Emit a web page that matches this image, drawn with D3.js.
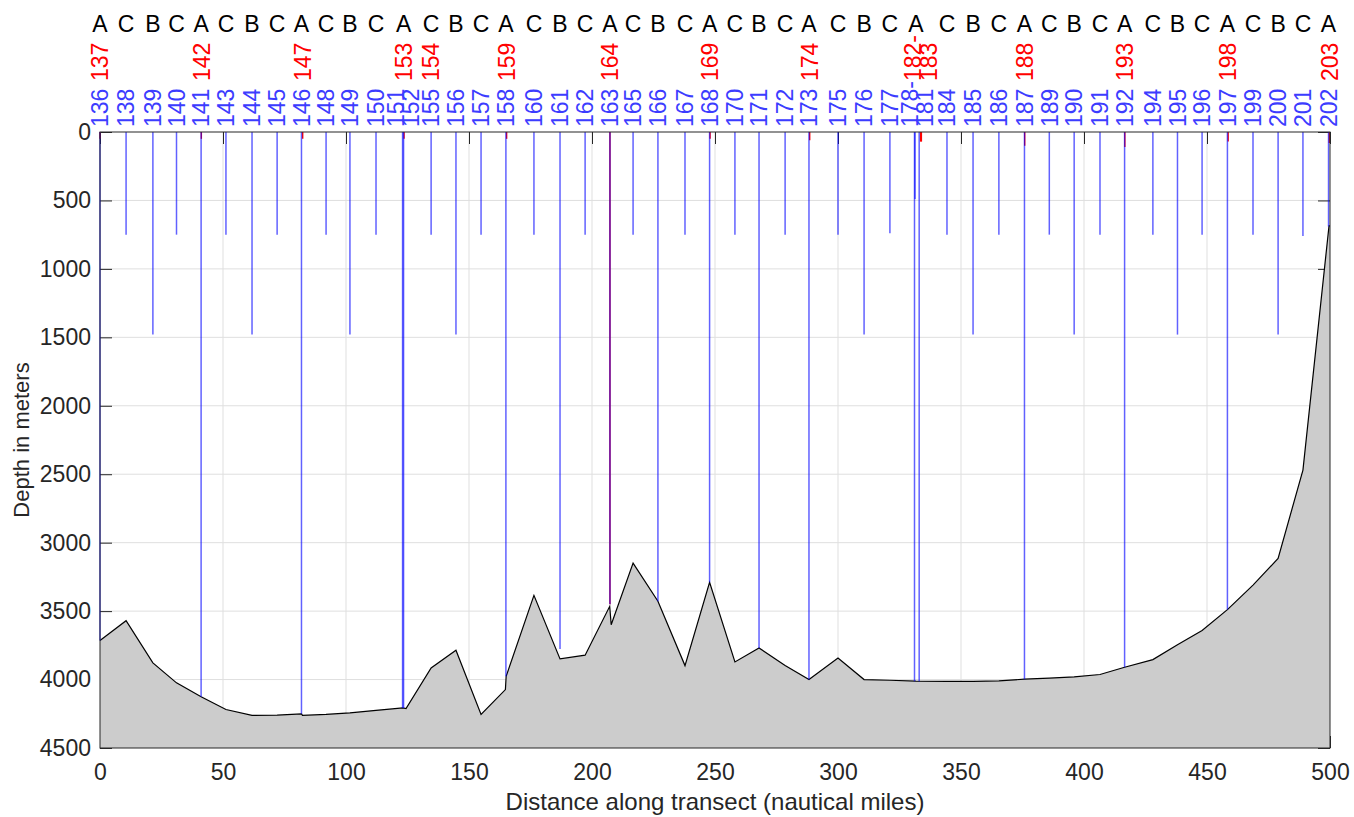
<!DOCTYPE html>
<html>
<head>
<meta charset="utf-8">
<script src="https://cdn.jsdelivr.net/npm/d3@7"></script>
<style>
  body { margin: 0; background: #fff; }
  svg text { font-family: "Liberation Sans", Arial, Helvetica, sans-serif; }
</style>
</head>
<body>
<div id="chart"></div>
<script>
// Sampling sites along the transect (nautical miles) and their site type
const siteDist = [0, 10.6, 21.5, 31.1, 41.1, 51.2, 61.8, 72, 81.9, 91.9, 101.6, 112.2, 123.4,
    134.6, 144.7, 154.9, 165, 176.4, 187, 197.2, 207.3, 216.7, 226.8, 237.8, 247.8, 258.1,
    267.9, 278.5, 288.2, 300, 310.6, 321.1, 331.7, 344.3, 354.9, 365.4, 375.8, 385.9, 396,
    406.5, 416.5, 428, 438, 448, 458.3, 468.7, 478.9, 489, 499.4];
const siteType = ["A", "C", "B", "C", "A", "C", "B", "C", "A", "C", "B", "C", "A",
    "C", "B", "C", "A", "C", "B", "C", "A", "C", "B", "C", "A", "C",
    "B", "C", "A", "C", "B", "C", "A", "C", "B", "C", "A", "C", "B",
    "C", "A", "C", "B", "C", "A", "C", "B", "C", "A"];

// Blue stations: label, distance, cast depth (m)
const blueLabels = ["136", "138", "139", "140", "141", "143", "144", "145", "146", "148", "149", "150",
    "151", "152", "155", "156", "157", "158", "160", "161", "162", "163", "165", "166", "167", "168",
    "170", "171", "172", "173", "175", "176", "177", "178-", "", "181", "184", "185", "186", "187",
    "189", "190", "191", "192", "194", "195", "196", "197", "199", "200", "201", "202"];
const blueDist = [0, 10.6, 21.5, 31.1, 41.1, 51.2, 61.8, 72, 81.9, 91.9, 101.6, 112.2,
    123.0, 123.4, 134.6, 144.7, 154.9, 165.0, 176.4, 187, 197.2, 207.3, 216.7, 226.8, 237.8, 247.8,
    258.1, 267.9, 278.5, 288.2, 300, 310.6, 321.1, 331.3, 331.1, 333.0, 344.3, 354.9, 365.4, 375.8,
    385.9, 396, 406.5, 416.5, 428, 438, 448, 458.3, 468.7, 478.9, 489, 499.4];
const blueDepth = [3715, 750, 1480, 750, 4126, 750, 1480, 750, 4250, 750, 1480, 750,
    4207, 4207, 750, 1480, 750, 3976, 750, 3776, 750, 3450, 750, 3428, 750, 3290,
    750, 3769, 750, 4000, 750, 1480, 740, 490, 4012, 4012, 750, 1480, 750, 3997,
    750, 1480, 750, 3910, 750, 1480, 750, 3489, 750, 1480, 760, 690];

// Red stations: label, distance, cast depth (m)
const redLabels = ["137", "142", "147", "153", "154", "159", "164", "169", "174", "182-", "183",
    "188", "193", "198", "203"];
const redDist = [0, 41.2, 82.4, 123.6, 134.6, 165.3, 207.3, 248.0, 288.5, 333.6, 333.9,
    375.9, 416.6, 458.6, 499.7];
const redDepth = [50, 50, 50, 50, 0, 50, 3450, 50, 60, 70, 70, 100, 110, 70, 80];

// Bottom profile
const bottomDist = [0, 10.6, 21.5, 31.1, 41.1, 51.2, 61.8, 72, 81.9, 82.3, 91.9, 101.6, 112.2,
    123.1, 124.4, 134.6, 144.7, 154.9, 164.8, 165.1, 176.4, 187, 197.2, 207.2, 207.8, 216.7,
    226.8, 237.8, 247.8, 258.1, 267.9, 278.5, 288.2, 300, 310.6, 321.1, 331.7, 344.3, 354.9,
    365.4, 375.8, 385.9, 396, 406.5, 416.5, 428, 438, 448, 458.3, 468.7, 478.9, 489, 499.6, 500];
const bottomDepth = [3715, 3570, 3878, 4024, 4126, 4219, 4262, 4260, 4250, 4262, 4255, 4243, 4225,
    4207, 4212, 3915, 3786, 4255, 4073, 3976, 3385, 3849, 3822, 3465, 3600, 3149,
    3428, 3898, 3290, 3871, 3769, 3898, 4000, 3842, 4000, 4005, 4012, 4013, 4013,
    4010, 3997, 3990, 3980, 3963, 3910, 3854, 3745, 3642, 3489, 3310, 3115, 2470, 686, 686];

const xTicks = [0, 50, 100, 150, 200, 250, 300, 350, 400, 450, 500];
const yTicks = [0, 500, 1000, 1500, 2000, 2500, 3000, 3500, 4000, 4500];

function renderTransect() {
    const width = 1354, height = 817;
    const margin = { top: 132, right: 24, bottom: 69, left: 100 };
    const innerWidth = width - margin.left - margin.right;
    const innerHeight = height - margin.top - margin.bottom;
    const axisColor = "#262626";
    const fontSize = "23px";

    const svg = d3.select("#chart")
        .append("svg")
        .attr("width", width)
        .attr("height", height);

    const g = svg.append("g")
        .attr("transform", `translate(${margin.left},${margin.top})`);

    // Scales
    const x = d3.scaleLinear().domain([0, 500]).range([0, innerWidth]);
    const y = d3.scaleLinear().domain([0, 4500]).range([0, innerHeight]);

    // Grid
    g.append("g").selectAll("line.gx")
        .data(xTicks.slice(1, -1))
        .enter().append("line")
        .attr("x1", d => x(d)).attr("x2", d => x(d))
        .attr("y1", 0).attr("y2", innerHeight)
        .attr("stroke", "#dfdfdf").attr("stroke-width", 1);
    g.append("g").selectAll("line.gy")
        .data(yTicks.slice(1, -1))
        .enter().append("line")
        .attr("x1", 0).attr("x2", innerWidth)
        .attr("y1", d => y(d)).attr("y2", d => y(d))
        .attr("stroke", "#dfdfdf").attr("stroke-width", 1);

    // Axes (ticks point inward)
    const xAxis = g.append("g")
        .attr("transform", `translate(0,${innerHeight})`)
        .call(d3.axisBottom(x).tickValues(xTicks).tickFormat(d3.format("d"))
            .tickSize(-12).tickSizeOuter(0).tickPadding(16));
    const yAxis = g.append("g")
        .call(d3.axisLeft(y).tickValues(yTicks).tickFormat(d3.format("d"))
            .tickSize(-12).tickSizeOuter(0).tickPadding(9));
    const topAxis = g.append("g")
        .call(d3.axisTop(x).tickValues(xTicks).tickSize(-12).tickSizeOuter(0).tickFormat(""));
    const rightAxis = g.append("g")
        .attr("transform", `translate(${innerWidth},0)`)
        .call(d3.axisRight(y).tickValues(yTicks).tickSize(-12).tickSizeOuter(0).tickFormat(""));

    [xAxis, yAxis, topAxis, rightAxis].forEach(a => {
        a.select(".domain").remove();
        a.selectAll(".tick line").attr("stroke", axisColor);
        a.selectAll(".tick text")
            .attr("fill", axisColor)
            .style("font-size", fontSize);
    });

    // Sea floor
    const bottom = bottomDist.map((d, i) => ({ dist: d, depth: bottomDepth[i] }));
    const area = d3.area()
        .x(d => x(d.dist))
        .y0(innerHeight)
        .y1(d => y(d.depth));
    const line = d3.line()
        .x(d => x(d.dist))
        .y(d => y(d.depth));

    g.append("path")
        .datum(bottom)
        .attr("fill", "#cccccc")
        .attr("d", area);
    g.append("path")
        .datum(bottom)
        .attr("fill", "none")
        .attr("stroke", "#000")
        .attr("stroke-width", 1.2)
        .attr("d", line);

    // Casts (red drawn first, blue semi-transparent on top)
    const red = redLabels.map((d, i) => ({ label: d, dist: redDist[i], depth: redDepth[i] }));
    const blue = blueLabels.map((d, i) => ({ label: d, dist: blueDist[i], depth: blueDepth[i] }));

    g.append("g").selectAll("line")
        .data(red.filter(d => d.depth > 0))
        .enter().append("line")
        .attr("x1", d => x(d.dist)).attr("x2", d => x(d.dist))
        .attr("y1", 0).attr("y2", d => y(d.depth))
        .attr("stroke", "#ff0000")
        .attr("stroke-width", 1.4);

    g.append("g").selectAll("line")
        .data(blue)
        .enter().append("line")
        .attr("x1", d => x(d.dist)).attr("x2", d => x(d.dist))
        .attr("y1", 0).attr("y2", d => y(d.depth))
        .attr("stroke", "#0000ff")
        .attr("stroke-opacity", 0.62)
        .attr("stroke-width", 1.5);

    // Box
    g.append("rect")
        .attr("width", innerWidth)
        .attr("height", innerHeight)
        .attr("fill", "none")
        .attr("stroke", axisColor)
        .attr("stroke-width", 1);

    // Spread labels that sit too close together
    function spread(items, gap) {
        const p = items.map(d => ({ label: d.label, px: x(d.dist) }))
            .sort((a, b) => a.px - b.px);
        for (let it = 0; it < 60; it++) {
            for (let i = 1; i < p.length; i++) {
                const dd = p[i].px - p[i - 1].px;
                if (dd < gap) {
                    const s = (gap - dd) / 2;
                    p[i - 1].px -= s;
                    p[i].px += s;
                }
            }
        }
        return p;
    }

    const labelGroup = svg.append("g")
        .attr("transform", `translate(${margin.left},0)`);

    labelGroup.selectAll("text.blue")
        .data(spread(blue.filter(d => d.label !== ""), 15))
        .enter().append("text")
        .attr("transform", d => `translate(${d.px},127) rotate(-90)`)
        .attr("dy", "0.36em")
        .attr("fill", "#3c3cff")
        .style("font-size", fontSize)
        .text(d => d.label);

    labelGroup.selectAll("text.red")
        .data(spread(red, 16))
        .enter().append("text")
        .attr("transform", d => `translate(${d.px},81) rotate(-90)`)
        .attr("dy", "0.36em")
        .attr("fill", "#ff0000")
        .style("font-size", fontSize)
        .text(d => d.label);

    // Site type letters
    labelGroup.selectAll("text.site")
        .data(siteDist)
        .enter().append("text")
        .attr("x", d => x(d))
        .attr("y", 31.5)
        .attr("text-anchor", "middle")
        .attr("fill", "#000")
        .style("font-size", fontSize)
        .text((d, i) => siteType[i]);

    // Axis labels
    g.append("text")
        .attr("x", innerWidth / 2)
        .attr("y", innerHeight + 62)
        .attr("text-anchor", "middle")
        .attr("fill", axisColor)
        .style("font-size", "24px")
        .text("Distance along transect (nautical miles)");

    g.append("text")
        .attr("transform", "rotate(-90)")
        .attr("x", -innerHeight / 2)
        .attr("y", -71)
        .attr("text-anchor", "middle")
        .attr("fill", axisColor)
        .style("font-size", "22px")
        .text("Depth in meters");
}

renderTransect();
</script>
</body>
</html>
